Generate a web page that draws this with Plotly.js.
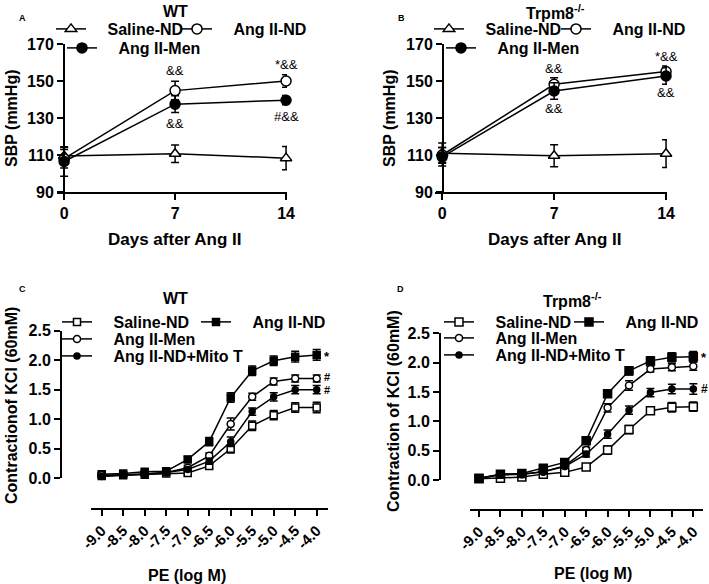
<!DOCTYPE html>
<html>
<head>
<meta charset="utf-8">
<script src="https://cdn.plot.ly/plotly-3.0.1.min.js"></script>
<style>
  html, body { margin: 0; padding: 0; background: #fff; }
  #chart { width: 709px; height: 584px; }
</style>
</head>
<body>
<div id="chart"></div>
<script>
const W = 709, H = 584;
const FONT = "Arial, 'Liberation Sans', sans-serif";

// top panels: SBP over days
const days = [0, 7, 14];
const dayLabels = ["0", "7", "14"];

const salineA = [109.5, 110.7, 108.3];
const salineAErr = [4.5, 4.7, 6.3];
const angNdA = [108.0, 144.8, 150.0];
const angNdAErr = [5.0, 5.0, 3.4];
const angMenA = [106.5, 137.5, 139.6];
const angMenAErr = [8.0, 4.5, 2.5];

const salineB = [111.0, 109.6, 110.7];
const salineBErr = [5.5, 6.0, 7.5];
const angNdB = [110.0, 148.2, 155.1];
const angNdBErr = [4.0, 3.5, 3.0];
const angMenB = [109.0, 144.6, 152.7];
const angMenBErr = [5.0, 4.5, 4.5];

// bottom panels: PE dose response
const peDoses = [-9.0, -8.5, -8.0, -7.5, -7.0, -6.5, -6.0, -5.5, -5.0, -4.5, -4.0];
const peLabels = ["-9.0", "-8.5", "-8.0", "-7.5", "-7.0", "-6.5", "-6.0", "-5.5", "-5.0", "-4.5", "-4.0"];

const salineC = [0.04, 0.05, 0.06, 0.08, 0.09, 0.21, 0.50, 0.89, 1.07, 1.20, 1.20];
const salineCErr = [0.02, 0.02, 0.02, 0.03, 0.03, 0.04, 0.07, 0.08, 0.08, 0.08, 0.09];
const angNdC = [0.07, 0.08, 0.11, 0.12, 0.32, 0.62, 1.37, 1.82, 1.99, 2.06, 2.09];
const angNdCErr = [0.02, 0.02, 0.03, 0.03, 0.05, 0.07, 0.08, 0.08, 0.08, 0.09, 0.09];
const angMenC = [0.05, 0.06, 0.07, 0.10, 0.18, 0.38, 0.92, 1.38, 1.64, 1.69, 1.69];
const angMenCErr = [0.02, 0.02, 0.02, 0.03, 0.04, 0.05, 0.10, 0.06, 0.06, 0.06, 0.06];
const mitoC = [0.03, 0.05, 0.07, 0.10, 0.15, 0.29, 0.62, 1.13, 1.38, 1.50, 1.50];
const mitoCErr = [0.02, 0.02, 0.02, 0.03, 0.03, 0.05, 0.08, 0.06, 0.07, 0.07, 0.07];

const salineD = [0.02, 0.03, 0.05, 0.10, 0.13, 0.22, 0.51, 0.86, 1.18, 1.24, 1.25];
const salineDErr = [0.02, 0.02, 0.02, 0.03, 0.03, 0.04, 0.07, 0.07, 0.06, 0.08, 0.08];
const angNdD = [0.03, 0.10, 0.11, 0.20, 0.30, 0.67, 1.47, 1.86, 2.03, 2.09, 2.10];
const angNdDErr = [0.02, 0.02, 0.03, 0.03, 0.04, 0.06, 0.06, 0.07, 0.07, 0.08, 0.09];
const angMenD = [0.03, 0.09, 0.10, 0.14, 0.24, 0.51, 1.23, 1.61, 1.89, 1.92, 1.94];
const angMenDErr = [0.02, 0.02, 0.02, 0.03, 0.03, 0.05, 0.07, 0.08, 0.05, 0.06, 0.07];
const mitoD = [0.03, 0.09, 0.10, 0.14, 0.23, 0.44, 0.78, 1.19, 1.49, 1.55, 1.55];
const mitoDErr = [0.02, 0.02, 0.02, 0.02, 0.03, 0.05, 0.07, 0.07, 0.07, 0.08, 0.09];

// pixel -> paper helpers
const px = (x) => x / W;
const py = (y) => 1 - y / H;
const PAD = "\u00a0\u00a0\u00a0\u2009";

let legendCount = 0;
const legends = {};

function series(xa, ya, x, y, err, name, symbol, size, filled, legendPos) {
  legendCount++;
  const id = legendCount === 1 ? "legend" : "legend" + legendCount;
  legends[id] = {
    x: px(legendPos[0] - 6), y: py(legendPos[1]),
    xanchor: "left", yanchor: "middle",
    bgcolor: "rgba(0,0,0,0)", borderwidth: 0,
    itemwidth: 30, itemclick: false, itemdoubleclick: false,
    font: { family: FONT, size: 16, color: "#000", weight: 700 }
  };
  return {
    type: "scatter", mode: "lines+markers", name: PAD + name,
    xaxis: xa, yaxis: ya, x: x, y: y, legend: id,
    cliponaxis: false,
    line: { color: "#000", width: 1.5 },
    marker: { symbol: symbol, size: size, color: filled ? "#000" : "#fff",
              line: { color: "#000", width: 1.5 } },
    error_y: { type: "data", array: err, color: "#000", thickness: 1.5, width: 4 }
  };
}

const traces = [
  series("x", "y", days, salineA, salineAErr, "Saline-ND", "triangle-up", 10, false, [57, 29]),
  series("x", "y", days, angNdA, angNdAErr, "Ang II-ND", "circle", 10, false, [183, 29]),
  series("x", "y", days, angMenA, angMenAErr, "Ang II-Men", "circle", 10, true, [68, 48]),

  series("x2", "y2", days, salineB, salineBErr, "Saline-ND", "triangle-up", 10, false, [435, 29]),
  series("x2", "y2", days, angNdB, angNdBErr, "Ang II-ND", "circle", 10, false, [562, 29]),
  series("x2", "y2", days, angMenB, angMenBErr, "Ang II-Men", "circle", 10, true, [447, 48]),

  series("x3", "y3", peDoses, salineC, salineCErr, "Saline-ND", "square", 7, false, [63, 322]),
  series("x3", "y3", peDoses, angNdC, angNdCErr, "Ang II-ND", "square", 7, true, [202, 322]),
  series("x3", "y3", peDoses, angMenC, angMenCErr, "Ang II-Men", "circle", 7, false, [63, 339]),
  series("x3", "y3", peDoses, mitoC, mitoCErr, "Ang II-ND+Mito T", "circle", 6, true, [63, 356]),

  series("x4", "y4", peDoses, salineD, salineDErr, "Saline-ND", "square", 8, false, [445, 322]),
  series("x4", "y4", peDoses, angNdD, angNdDErr, "Ang II-ND", "square", 8, true, [575, 322]),
  series("x4", "y4", peDoses, angMenD, angMenDErr, "Ang II-Men", "circle", 7, false, [445, 338]),
  series("x4", "y4", peDoses, mitoD, mitoDErr, "Ang II-ND+Mito T", "circle", 6, true, [445, 355])
];

const bold = (size) => ({ family: FONT, size: size, color: "#000", weight: 700 });

function axis(extra) {
  return Object.assign({
    showline: true, linecolor: "#000", linewidth: 2,
    ticks: "outside", ticklen: 6, tickwidth: 2, tickcolor: "#000",
    showgrid: false, zeroline: false, fixedrange: true,
    tickfont: bold(16)
  }, extra);
}

function text(x, y, t, opts) {
  return Object.assign({
    x: x, y: y, text: t, showarrow: false,
    xanchor: "center", yanchor: "middle", borderpad: 0,
    font: { family: FONT, size: 13, color: "#000" }
  }, opts);
}

function label(x, y, t, size, angle) {
  return text(px(x), py(y), t, { xref: "paper", yref: "paper", font: bold(size), textangle: angle || 0 });
}

const annotations = [
  // panel letters and titles
  label(22, 18, "A", 9),
  label(401, 18, "B", 9),
  label(22, 289, "C", 9),
  label(400, 289, "D", 9),
  label(175, 12, "WT", 16),
  label(555, 12, "Trpm8<sup>-/-</sup>", 16),
  label(175, 298, "WT", 16),
  label(572, 300, "Trpm8<sup>-/-</sup>", 16),

  // axis titles
  label(11, 118, "SBP (mmHg)", 16, -90),
  label(389, 118, "SBP (mmHg)", 16, -90),
  label(175, 239, "Days after Ang II", 17),
  label(555, 239, "Days after Ang II", 17),
  label(11, 406, "Contractionof KCl (60mM)", 16, -90),
  label(393, 411, "Contraction of KCl (60mM)", 16, -90),
  label(187, 575, "PE (log M)", 16),
  label(593, 573, "PE (log M)", 16),

  // significance marks
  text(7, 155.5, "&&", { xref: "x", yref: "y" }),
  text(7, 127, "&&", { xref: "x", yref: "y" }),
  text(14, 159, "*&&", { xref: "x", yref: "y" }),
  text(14, 131, "#&&", { xref: "x", yref: "y" }),
  text(7, 156.5, "&&", { xref: "x2", yref: "y2" }),
  text(7, 135, "&&", { xref: "x2", yref: "y2" }),
  text(14, 163, "*&&", { xref: "x2", yref: "y2" }),
  text(14, 144, "&&", { xref: "x2", yref: "y2" }),
  text(-3.85, 2.07, "*", { xref: "x3", yref: "y3", xanchor: "left", font: bold(13) }),
  text(-3.85, 1.72, "#", { xref: "x3", yref: "y3", xanchor: "left", font: bold(11) }),
  text(-3.85, 1.49, "#", { xref: "x3", yref: "y3", xanchor: "left", font: bold(11) }),
  text(-3.85, 2.08, "*", { xref: "x4", yref: "y4", xanchor: "left", font: bold(13) }),
  text(-3.85, 1.55, "#", { xref: "x4", yref: "y4", xanchor: "left", font: bold(12) })
];

const layout = Object.assign({
  width: W, height: H,
  margin: { l: 0, r: 0, t: 0, b: 0 },
  paper_bgcolor: "#fff", plot_bgcolor: "#fff",
  showlegend: true,
  font: { family: FONT, color: "#000" },

  xaxis: axis({ domain: [px(57), px(287)], range: [-0.45, 14.06], tickvals: days, ticktext: dayLabels, anchor: "y" }),
  yaxis: axis({ domain: [py(192), py(44)], range: [90, 170], tick0: 90, dtick: 20, anchor: "free", position: px(64) }),
  xaxis2: axis({ domain: [px(435), px(667)], range: [-0.45, 14.06], tickvals: days, ticktext: dayLabels, anchor: "y2" }),
  yaxis2: axis({ domain: [py(192), py(44)], range: [90, 170], tick0: 90, dtick: 20, anchor: "free", position: px(443) }),

  xaxis3: axis({ domain: [px(90.7), px(328)], range: [-9.256, -3.737], tickvals: peDoses, ticktext: peLabels,
                 tickangle: -45, tickfont: bold(15), anchor: "free", position: py(509) }),
  yaxis3: axis({ domain: [py(478.3), py(330.7)], range: [0, 2.5], dtick: 0.5, tickformat: ".1f", anchor: "free", position: px(61) }),
  xaxis4: axis({ domain: [px(470), px(703)], range: [-9.21, -3.774], tickvals: peDoses, ticktext: peLabels,
                 tickangle: -45, tickfont: bold(15), anchor: "free", position: py(510) }),
  yaxis4: axis({ domain: [py(480), py(333.3)], range: [0, 2.5], dtick: 0.5, tickformat: ".1f", anchor: "free", position: px(440) }),

  annotations: annotations
}, legends);

Plotly.newPlot("chart", traces, layout, { displayModeBar: false, staticPlot: true });
</script>
</body>
</html>
